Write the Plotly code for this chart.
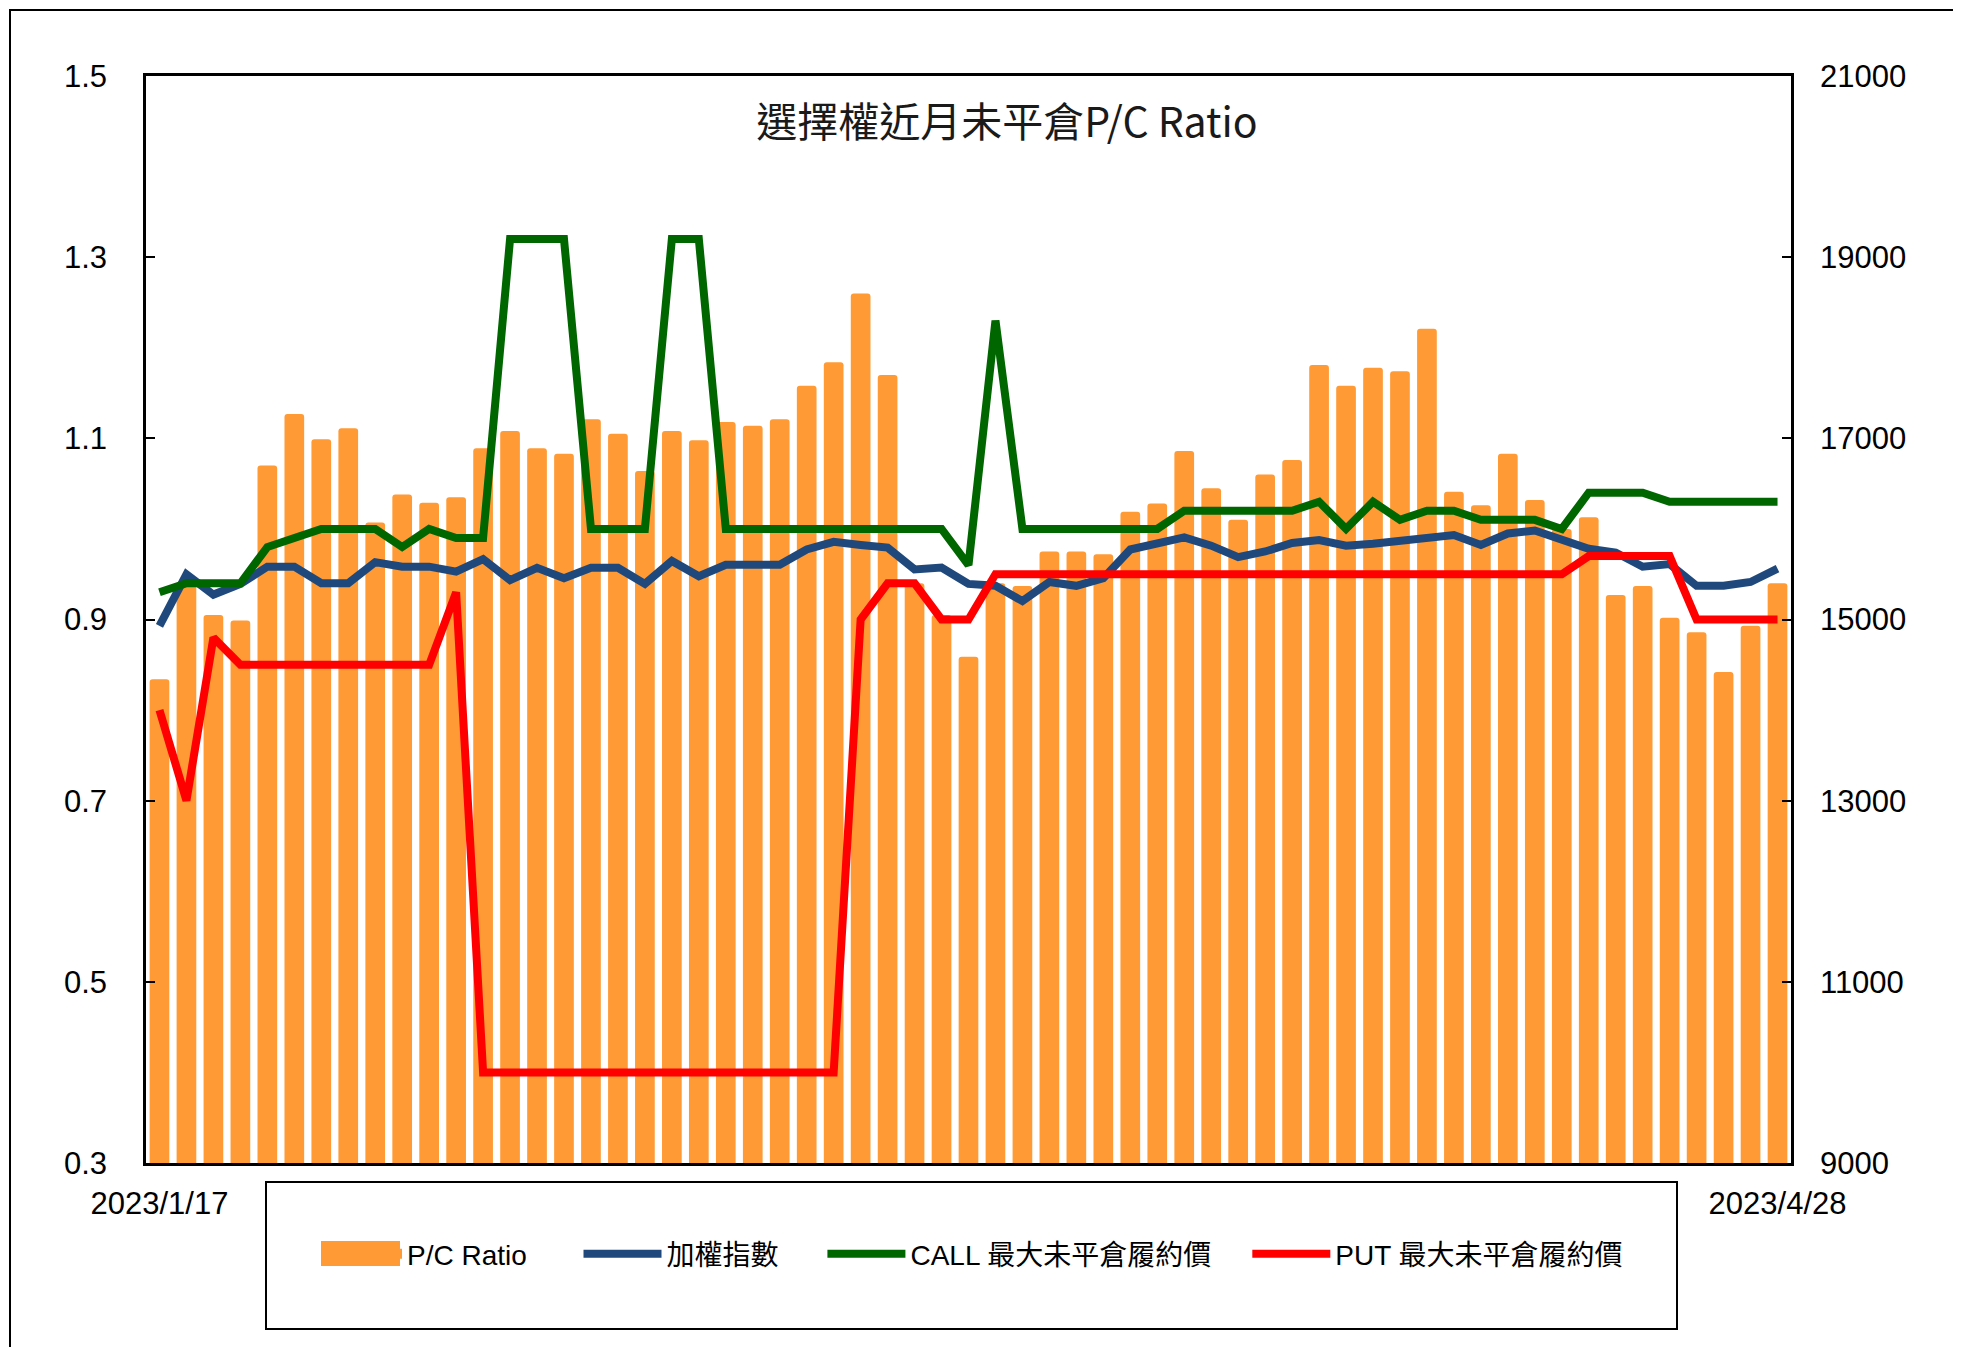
import plotly.graph_objects as go

dates = [
    "2023/1/17", "2023/1/30", "2023/1/31",
    "2023/2/1", "2023/2/2", "2023/2/3", "2023/2/6", "2023/2/7", "2023/2/8", "2023/2/9", "2023/2/10",
    "2023/2/13", "2023/2/14", "2023/2/15", "2023/2/16", "2023/2/17", "2023/2/20", "2023/2/21",
    "2023/2/22", "2023/2/23", "2023/2/24",
    "2023/3/1", "2023/3/2", "2023/3/3", "2023/3/6", "2023/3/7", "2023/3/8", "2023/3/9", "2023/3/10",
    "2023/3/13", "2023/3/14", "2023/3/15", "2023/3/16", "2023/3/17", "2023/3/20", "2023/3/21",
    "2023/3/22", "2023/3/23", "2023/3/24", "2023/3/27", "2023/3/28", "2023/3/29", "2023/3/30", "2023/3/31",
    "2023/4/6", "2023/4/7", "2023/4/10", "2023/4/11", "2023/4/12", "2023/4/13", "2023/4/14",
    "2023/4/17", "2023/4/18", "2023/4/19", "2023/4/20", "2023/4/21", "2023/4/24", "2023/4/25",
    "2023/4/26", "2023/4/27", "2023/4/28",
]

pc_ratio = [
    0.834, 0.940, 0.905, 0.899, 1.070, 1.127, 1.099, 1.111, 1.007, 1.038, 1.029, 1.035,
    1.089, 1.108, 1.089, 1.083, 1.121, 1.105, 1.064, 1.108, 1.098, 1.118, 1.114, 1.121,
    1.158, 1.184, 1.260, 1.170, 0.940, 0.905, 0.859, 0.940, 0.937, 0.975, 0.975, 0.972,
    1.019, 1.028, 1.086, 1.045, 1.010, 1.060, 1.076, 1.181, 1.158, 1.178, 1.174, 1.221,
    1.041, 1.026, 1.083, 1.032, 1.000, 1.013, 0.927, 0.937, 0.902, 0.886, 0.842, 0.893, 0.940,
]

taiex = [
    14930, 15498, 15275, 15393, 15583, 15583, 15401, 15401, 15633, 15583, 15583, 15528,
    15667, 15435, 15570, 15456, 15570, 15570, 15393, 15646, 15477, 15604, 15604, 15604,
    15773, 15857, 15823, 15794, 15553, 15574, 15393, 15372, 15203, 15414, 15372, 15456,
    15773, 15836, 15907, 15815, 15688, 15751, 15844, 15878, 15815, 15836, 15865, 15899,
    15933, 15823, 15950, 15983, 15878, 15781, 15739, 15583, 15612, 15372, 15372, 15414, 15562,
]

call_max_oi = [
    15300, 15400, 15400, 15400, 15800, 15900, 16000, 16000, 16000, 15800, 16000, 15900,
    15900, 19200, 19200, 19200, 16000, 16000, 16000, 19200, 19200, 16000, 16000, 16000,
    16000, 16000, 16000, 16000, 16000, 16000, 15600, 18300, 16000, 16000, 16000, 16000,
    16000, 16000, 16200, 16200, 16200, 16200, 16200, 16300, 16000, 16300, 16100, 16200,
    16200, 16100, 16100, 16100, 16000, 16400, 16400, 16400, 16300, 16300, 16300, 16300, 16300,
]

put_max_oi = [
    14000, 13000, 14800, 14500, 14500, 14500, 14500, 14500, 14500, 14500, 14500, 15300,
    10000, 10000, 10000, 10000, 10000, 10000, 10000, 10000, 10000, 10000, 10000, 10000,
    10000, 10000, 15000, 15400, 15400, 15000, 15000, 15500, 15500, 15500, 15500, 15500,
    15500, 15500, 15500, 15500, 15500, 15500, 15500, 15500, 15500, 15500, 15500, 15500,
    15500, 15500, 15500, 15500, 15500, 15700, 15700, 15700, 15700, 15000, 15000, 15000, 15000,
]

left_ticks = [0.3, 0.5, 0.7, 0.9, 1.1, 1.3, 1.5]
right_ticks = [9000, 11000, 13000, 15000, 17000, 19000, 21000]

FIG_W, FIG_H = 1961, 1347
OFF = 8  # page offset of the figure inside the browser body
L, R, T, B = 146, 1791, 76, 1163   # target plot-area edges, page pixels
PW, PH = R - L, B - T


def px(x):
    return (x - L) / PW


def py(y):
    return (B - y) / PH


LAT = "Liberation Sans, Arial, Noto Sans CJK TC, sans-serif"
CJK = "Noto Sans CJK TC, Liberation Sans, sans-serif"
NB = "\u00a0"

ORANGE = "#FF9A35"

fig = go.Figure()
fig.add_trace(go.Bar(
    x=dates, y=pc_ratio, name="P/C Ratio", showlegend=False,
    marker=dict(color=ORANGE, line=dict(width=0), cornerradius=3),
    yaxis="y",
))
# legend entry for the bars (thick swatch)
fig.add_trace(go.Scatter(
    x=[None], y=[None], name="P/C Ratio" + NB * 6, mode="lines",
    line=dict(color=ORANGE, width=22), yaxis="y",
))
fig.add_trace(go.Scatter(
    x=dates, y=taiex, name="加權指數" + NB * 5, mode="lines",
    line=dict(color="#1F497D", width=8), yaxis="y2",
))
fig.add_trace(go.Scatter(
    x=dates, y=call_max_oi, name="CALL 最大未平倉履約價" + NB * 4, mode="lines",
    line=dict(color="#006600", width=8), yaxis="y2",
))
fig.add_trace(go.Scatter(
    x=dates, y=put_max_oi, name="PUT 最大未平倉履約價", mode="lines",
    line=dict(color="#FF0000", width=8), yaxis="y2",
))

axis_common = dict(
    showgrid=False, zeroline=False, showline=True, linecolor="black", linewidth=2.5,
    ticks="inside", ticklen=9, tickwidth=2, tickcolor="black",
    tickfont=dict(family=LAT, size=31, color="black"),
)

fig.update_layout(
    width=FIG_W, height=FIG_H,
    margin=dict(l=L - OFF, r=FIG_W - (R - OFF), t=T - OFF, b=FIG_H - (B - OFF), pad=0),
    paper_bgcolor="white", plot_bgcolor="white",
    bargap=0.27,
    showlegend=True,
    title=dict(
        text="選擇權近月未平倉P/C Ratio",
        x=(1007 - OFF) / FIG_W, y=1 - (123 - OFF) / FIG_H, xanchor="center", yanchor="middle",
        font=dict(family=CJK, size=41, color="#1a1a1a"),
    ),
    xaxis=dict(
        type="category", showgrid=False, zeroline=False, showline=True,
        linecolor="black", linewidth=2.5, mirror=True, ticks="",
        tickvals=[dates[0], dates[-1]], ticktext=[dates[0], dates[-1]],
        tickangle=0, ticklabelstandoff=11,
        tickfont=dict(family=LAT, size=31, color="black"),
    ),
    yaxis=dict(
        range=[0.3, 1.5], tickvals=left_ticks,
        ticktext=[f"{v:.1f}" for v in left_ticks], side="left",
        ticklabelstandoff=30, **axis_common,
    ),
    yaxis2=dict(
        range=[9000, 21000], tickvals=right_ticks,
        ticktext=[str(v) for v in right_ticks], side="right", overlaying="y",
        ticklabelstandoff=20, **axis_common,
    ),
    legend=dict(
        orientation="h", x=px(319), y=py(1254), xanchor="left", yanchor="middle",
        font=dict(family=LAT, size=28, color="black"),
        itemwidth=78, bgcolor="rgba(0,0,0,0)", borderwidth=0,
        traceorder="normal",
    ),
    shapes=[
        # legend frame
        dict(type="rect", xref="paper", yref="paper",
             x0=px(266), x1=px(1677), y0=py(1182), y1=py(1329),
             line=dict(color="black", width=2), fillcolor="rgba(0,0,0,0)", layer="above"),
        # thick swatch behind the P/C Ratio legend entry
        dict(type="rect", xref="paper", yref="paper",
             x0=px(321), x1=px(400), y0=py(1266), y1=py(1241),
             line=dict(width=0), fillcolor=ORANGE, layer="above"),
        # outer chart frame
        dict(type="rect", xref="paper", yref="paper",
             x0=px(10), x1=px(1990), y0=py(10), y1=py(1380),
             line=dict(color="black", width=2), fillcolor="rgba(0,0,0,0)", layer="below"),
    ],
)

fig.write_html("out.html")
